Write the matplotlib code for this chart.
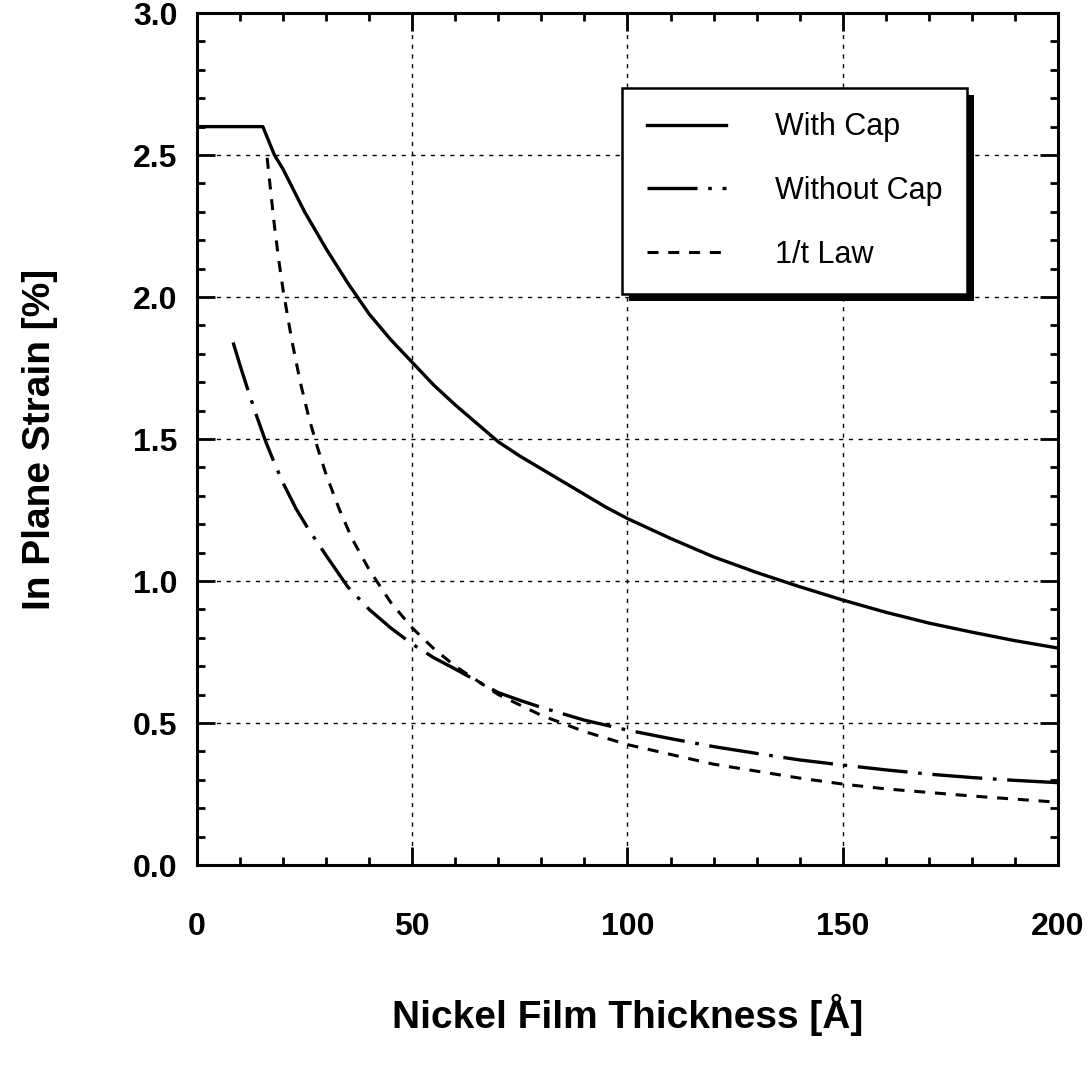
import matplotlib
matplotlib.use("Agg")
import matplotlib.pyplot as plt
import matplotlib.patheffects as pe
from matplotlib.ticker import MultipleLocator

plt.rcParams['font.family'] = ['Liberation Sans', 'DejaVu Sans']

# values (thickness in Angstrom, strain in %)
cap_x = [0, 15.3, 18, 20, 25, 30, 35, 40, 45, 50, 55, 60, 65, 70, 75, 80, 85, 90, 95, 100,
         110, 120, 130, 140, 150, 160, 170, 180, 190, 200]
cap_y = [2.60, 2.60, 2.50, 2.45, 2.30, 2.17, 2.05, 1.94, 1.85, 1.77, 1.69, 1.62, 1.555, 1.49,
         1.44, 1.395, 1.35, 1.305, 1.26, 1.22, 1.15, 1.085, 1.03, 0.98, 0.933, 0.89, 0.852,
         0.82, 0.79, 0.764]

nocap_x = [8.4, 10, 12, 14, 16, 18, 20, 23, 26, 30, 35, 40, 45, 50, 55, 60, 65, 70, 75, 80,
           90, 100, 110, 120, 130, 140, 150, 160, 170, 180, 190, 200]
nocap_y = [1.84, 1.76, 1.665, 1.575, 1.49, 1.415, 1.345, 1.255, 1.18, 1.09, 0.98, 0.90, 0.835,
           0.778, 0.73, 0.69, 0.648, 0.607, 0.58, 0.555, 0.51, 0.475, 0.445, 0.417, 0.393,
           0.370, 0.352, 0.335, 0.320, 0.308, 0.298, 0.290]

law_x = [16.3, 17, 18, 19, 20, 22, 24, 26, 28, 30, 33, 36, 40, 45, 50, 55, 60, 70, 80, 90,
         100, 120, 140, 150, 160, 180, 200]
law_y = [2.49, 2.39, 2.25, 2.13, 2.025, 1.85, 1.70, 1.575, 1.47, 1.375, 1.255, 1.15, 1.04,
         0.925, 0.835, 0.762, 0.70, 0.60, 0.527, 0.47, 0.424, 0.355, 0.306, 0.285, 0.268,
         0.243, 0.221]

labels = ["With Cap", "Without Cap", "1/t Law"]

fig = plt.figure(figsize=(10.9, 10.67), dpi=100)
ax = fig.add_axes([0.1807, 0.1893, 0.7899, 0.7985])

ax.plot(cap_x, cap_y, color='black', lw=2.4, label=labels[0])
ax.plot(nocap_x, nocap_y, color='black', lw=2.4, linestyle=(0, (15, 3.2, 1.1, 3.2)),
        label=labels[1])
ax.plot(law_x, law_y, color='black', lw=2.2, linestyle=(0, (3.6, 3.2)), label=labels[2])

ax.set_xlim(0, 200)
ax.set_ylim(0, 3.0)
ax.xaxis.set_major_locator(MultipleLocator(50))
ax.xaxis.set_minor_locator(MultipleLocator(10))
ax.yaxis.set_major_locator(MultipleLocator(0.5))
ax.yaxis.set_minor_locator(MultipleLocator(0.1))
ax.yaxis.set_major_formatter(lambda v, p: f"{v:.1f}")

ax.tick_params(which='both', direction='in', top=True, right=True, width=2, color='black')
ax.tick_params(which='major', length=13, labelsize=23)
ax.tick_params(which='minor', length=6)
ax.tick_params(axis='x', which='major', pad=34)
ax.tick_params(axis='y', which='major', pad=14)
for t in ax.get_xticklabels() + ax.get_yticklabels():
    t.set_fontweight('bold')
for s in ax.spines.values():
    s.set_linewidth(2.2)

ax.grid(True, which='major', color='black', lw=1.0, linestyle=(0, (3, 4)))

ax.set_xlabel("Nickel Film Thickness [Å]", fontsize=28, fontweight='bold', labelpad=37)
ax.set_ylabel("In Plane Strain [%]", fontsize=28, fontweight='bold', labelpad=54)

leg = ax.legend(loc='upper left', bbox_to_anchor=(0.494, 0.912), fontsize=22,
                handlelength=2.6, handletextpad=1.6, labelspacing=1.1,
                borderpad=0.8, borderaxespad=0, fancybox=False, framealpha=1)
frame = leg.get_frame()
frame.set_edgecolor('black')
frame.set_linewidth(1.8)
frame.set_path_effects([pe.SimplePatchShadow(offset=(5, -5), shadow_rgbFace='black', alpha=1.0),
                        pe.Normal()])

fig.savefig("out.png", dpi=100)
